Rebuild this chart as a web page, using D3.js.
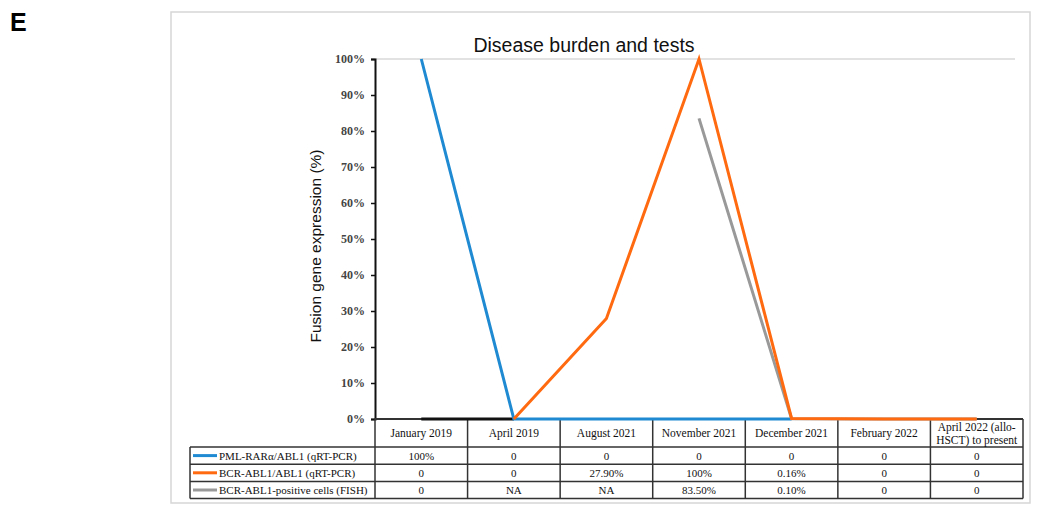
<!DOCTYPE html>
<html>
<head>
<meta charset="utf-8">
<script src="https://cdn.jsdelivr.net/npm/d3@7"></script>
<style>
  body { margin: 0; background: #fff; }
  svg { display: block; }
</style>
</head>
<body>
<svg id="chart" width="1037" height="506"></svg>
<script>
// time points (table columns)
const dates = ['January 2019', 'April 2019', 'August 2021', 'November 2021',
  'December 2021', 'February 2022', 'April 2022 (allo-HSCT) to present'];

// series values in % (null = not available)
const pmlRara = [100, 0, 0, 0, 0, 0, 0];
const bcrAbl = [0, 0, 27.9, 100, 0.16, 0, 0];
const fish = [0, null, null, 83.5, 0.1, 0, 0];

// table rows as printed
const seriesNames = ['PML-RARα/ABL1 (qRT-PCR)', 'BCR-ABL1/ABL1 (qRT-PCR)', 'BCR-ABL1-positive cells (FISH)'];
const seriesColors = ['#1f8ad2', '#ff6a10', '#999999'];
const tableText = [
  ['100%', '0', '0', '0', '0', '0', '0'],
  ['0', '0', '27.90%', '100%', '0.16%', '0', '0'],
  ['0', 'NA', 'NA', '83.50%', '0.10%', '0', '0'],
];

const yTicks = [0, 10, 20, 30, 40, 50, 60, 70, 80, 90, 100];

const svg = d3.select('#chart');
const serif = '"Liberation Serif", "Times New Roman", serif';
const sans = '"Liberation Sans", Arial, sans-serif';

// layout
const plot = { left: 375, right: 1023, top: 59, bottom: 419 };
const headerH = 28;
const rowH = 17.2;
const labelLeft = 190;

const x = d3.scaleBand().domain(dates).range([plot.left, plot.right]);
const y = d3.scaleLinear().domain([0, 100]).range([plot.bottom, plot.top]);
const cx = (d) => x(d) + x.bandwidth() / 2;

// panel letter
svg.append('text')
  .attr('x', 10).attr('y', 31)
  .attr('font-family', sans).attr('font-weight', 'bold').attr('font-size', 25)
  .text('E');

// outer frame
svg.append('rect')
  .attr('x', 171).attr('y', 12).attr('width', 859).attr('height', 491)
  .attr('fill', 'none').attr('stroke', '#d6d6d6').attr('stroke-width', 1.5);

// title
svg.append('text')
  .attr('x', 584).attr('y', 52)
  .attr('text-anchor', 'middle')
  .attr('font-family', sans).attr('font-size', 19.5).attr('fill', '#111')
  .text('Disease burden and tests');

// 100% gridline
svg.append('line')
  .attr('x1', plot.left).attr('x2', plot.right - 8)
  .attr('y1', y(100)).attr('y2', y(100))
  .attr('stroke', '#d9d9d9').attr('stroke-width', 1.5);

// y axis
const yAxis = svg.append('g')
  .attr('transform', `translate(${plot.left},0)`)
  .call(d3.axisLeft(y).tickValues(yTicks).tickSize(4).tickPadding(6).tickFormat((d) => `${d}%`));
yAxis.select('.domain').attr('stroke', '#111').attr('stroke-width', 2);
yAxis.selectAll('.tick line').attr('stroke', '#111').attr('stroke-width', 1.5);
yAxis.selectAll('.tick text')
  .attr('font-family', serif).attr('font-weight', 'bold').attr('font-size', 12)
  .attr('fill', '#444');

// y axis title
svg.append('text')
  .attr('transform', `translate(321,246) rotate(-90)`)
  .attr('text-anchor', 'middle')
  .attr('font-family', sans).attr('font-size', 15.5).attr('fill', '#111')
  .text('Fusion gene expression (%)');

// table grid
const table = svg.append('g').attr('fill', 'none').attr('stroke', '#333').attr('stroke-width', 1.5);
const tableBottom = plot.bottom + headerH + rowH * 3;
// horizontal rules
d3.range(4).forEach((i) => {
  const yy = plot.bottom + headerH + rowH * i;
  table.append('line').attr('x1', labelLeft).attr('x2', plot.right).attr('y1', yy).attr('y2', yy);
});
// vertical rules
table.append('line').attr('x1', labelLeft).attr('x2', labelLeft)
  .attr('y1', plot.bottom + headerH).attr('y2', tableBottom);
dates.forEach((d) => {
  table.append('line').attr('x1', x(d)).attr('x2', x(d)).attr('y1', plot.bottom).attr('y2', tableBottom);
});
table.append('line').attr('x1', plot.right).attr('x2', plot.right).attr('y1', plot.bottom).attr('y2', tableBottom);
// top of header row
svg.append('line').attr('x1', plot.left).attr('x2', plot.right)
  .attr('y1', plot.bottom).attr('y2', plot.bottom)
  .attr('stroke', '#333').attr('stroke-width', 2);

// header labels
const header = svg.append('g')
  .attr('font-family', serif).attr('font-size', 11.5).attr('fill', '#111')
  .attr('text-anchor', 'middle');
dates.forEach((d) => {
  const t = header.append('text').attr('x', cx(d));
  if (d.length > 20) {
    t.append('tspan').attr('x', cx(d)).attr('y', plot.bottom + 12).text('April 2022 (allo-');
    t.append('tspan').attr('x', cx(d)).attr('y', plot.bottom + 24.5).text('HSCT) to present');
  } else {
    t.attr('y', plot.bottom + 18).text(d);
  }
});

// rows: legend key + values
seriesNames.forEach((name, i) => {
  const top = plot.bottom + headerH + rowH * i;
  const mid = top + rowH / 2;
  svg.append('line')
    .attr('x1', labelLeft + 3).attr('x2', labelLeft + 27)
    .attr('y1', mid).attr('y2', mid)
    .attr('stroke', seriesColors[i]).attr('stroke-width', 3);
  svg.append('text')
    .attr('x', labelLeft + 29).attr('y', mid + 4)
    .attr('font-family', serif).attr('font-size', 11).attr('fill', '#111')
    .text(name);
  tableText[i].forEach((v, j) => {
    svg.append('text')
      .attr('x', cx(dates[j])).attr('y', mid + 4)
      .attr('text-anchor', 'middle')
      .attr('font-family', serif).attr('font-size', 11).attr('fill', '#111')
      .text(v);
  });
});

// lines
const line = d3.line()
  .defined((d) => d.v !== null)
  .x((d) => cx(d.date))
  .y((d) => y(d.v));
const toPts = (arr) => arr.map((v, i) => ({ date: dates[i], v }));

const lines = svg.append('g').attr('fill', 'none').attr('stroke-width', 3).attr('stroke-linejoin', 'miter');

// pre-diagnosis baseline of BCR-ABL1 shown in black
lines.append('path')
  .attr('d', line(toPts(bcrAbl).slice(0, 2)))
  .attr('stroke', '#111');
// PML-RARa until December 2021
lines.append('path')
  .attr('d', line(toPts(pmlRara).slice(0, 5)))
  .attr('stroke', seriesColors[0]);
// FISH from November 2021
lines.append('path')
  .attr('d', line(toPts(fish).slice(3)))
  .attr('stroke', seriesColors[2]);
// BCR-ABL1 from April 2019
lines.append('path')
  .attr('d', line(toPts(bcrAbl).slice(1)))
  .attr('stroke', seriesColors[1]);
</script>
</body>
</html>
